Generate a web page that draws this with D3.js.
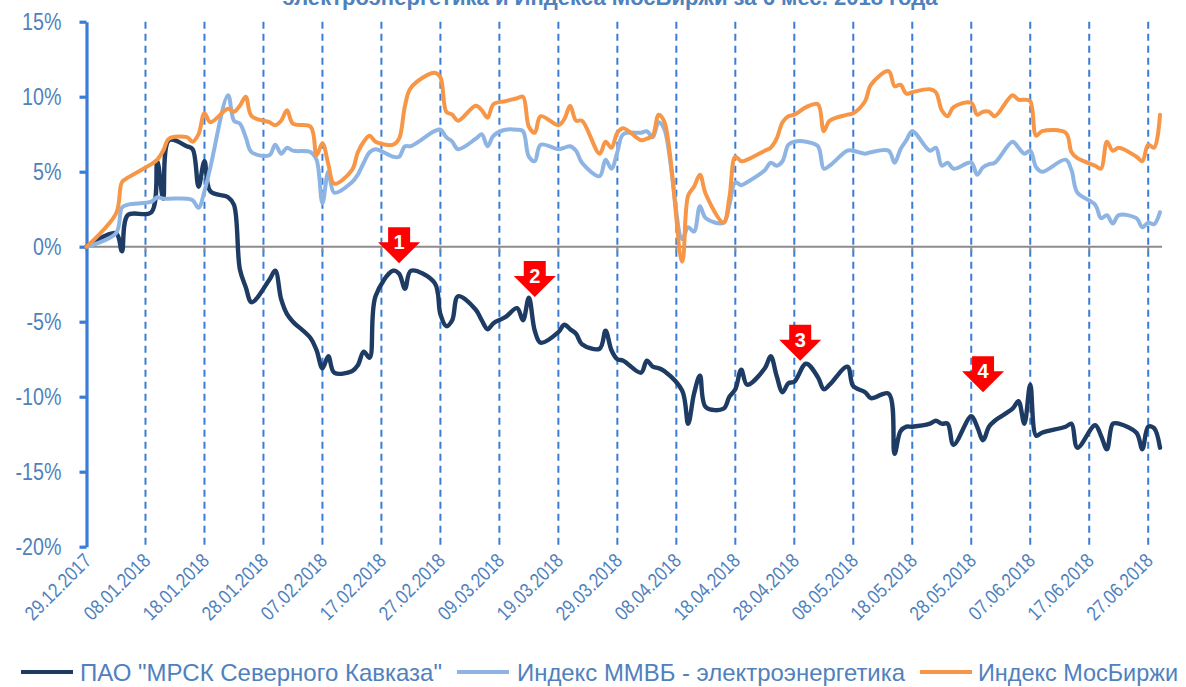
<!DOCTYPE html>
<html>
<head>
<meta charset="utf-8">
<script src="https://cdn.jsdelivr.net/npm/d3@7"></script>
<style>
  body { margin: 0; background: #fff; }
  svg { display: block; }
  text { font-family: "Liberation Sans", Arial, sans-serif; }
</style>
</head>
<body>
<script>
// trading dates (shared by the three series)
var dates = [
  "29.12.2017", "03.01.2018", "04.01.2018", "05.01.2018", "09.01.2018", "10.01.2018", "11.01.2018", "12.01.2018",
  "15.01.2018", "16.01.2018", "17.01.2018", "18.01.2018", "19.01.2018", "22.01.2018", "23.01.2018", "24.01.2018",
  "25.01.2018", "26.01.2018", "29.01.2018", "30.01.2018", "31.01.2018",
  "01.02.2018", "02.02.2018", "05.02.2018", "06.02.2018", "07.02.2018", "08.02.2018", "09.02.2018", "12.02.2018",
  "13.02.2018", "14.02.2018", "15.02.2018", "16.02.2018", "19.02.2018", "20.02.2018", "21.02.2018", "22.02.2018",
  "26.02.2018", "27.02.2018", "28.02.2018",
  "01.03.2018", "02.03.2018", "05.03.2018", "06.03.2018", "07.03.2018", "08.03.2018", "10.03.2018", "12.03.2018",
  "13.03.2018", "14.03.2018", "15.03.2018", "16.03.2018", "19.03.2018", "20.03.2018", "21.03.2018", "22.03.2018",
  "23.03.2018", "26.03.2018", "27.03.2018", "28.03.2018", "29.03.2018", "30.03.2018",
  "02.04.2018", "03.04.2018", "04.04.2018", "05.04.2018", "06.04.2018", "09.04.2018", "10.04.2018", "11.04.2018",
  "12.04.2018", "13.04.2018", "16.04.2018", "17.04.2018", "18.04.2018", "19.04.2018", "20.04.2018", "23.04.2018",
  "24.04.2018", "25.04.2018", "26.04.2018", "27.04.2018", "28.04.2018", "30.04.2018",
  "02.05.2018", "03.05.2018", "04.05.2018", "07.05.2018", "08.05.2018", "10.05.2018", "11.05.2018", "14.05.2018",
  "15.05.2018", "16.05.2018", "17.05.2018", "18.05.2018", "21.05.2018", "22.05.2018", "23.05.2018", "24.05.2018",
  "25.05.2018", "28.05.2018", "29.05.2018", "30.05.2018", "31.05.2018",
  "01.06.2018", "04.06.2018", "05.06.2018", "06.06.2018", "07.06.2018", "08.06.2018", "09.06.2018", "13.06.2018",
  "14.06.2018", "15.06.2018", "18.06.2018", "19.06.2018", "20.06.2018", "21.06.2018", "22.06.2018", "25.06.2018",
  "26.06.2018", "27.06.2018", "28.06.2018", "29.06.2018"
];

// ПАО "МРСК Северного Кавказа", % change
var mrsk = [
  0, 0.9, -0.3, 2.1, 2.3, 5.7, 3.2, 7.1, 6.7, 6.5, 4.0, 5.7, 3.7, 3.3, 2.8, -1.5, -2.7, -3.7, -2.2, -1.6, -3.5,
  -4.5, -5.0, -6.1, -6.9, -8.1, -7.3, -8.4, -8.3, -7.9, -7.0, -7.4, -3.3, -1.6, -1.8, -2.8, -1.6, -2.4, -4.5, -5.3,
  -4.9, -3.3, -4.2, -4.9, -5.5, -5.1, -4.7, -4.1, -4.9, -3.4, -5.6, -6.4, -5.7, -5.2, -5.5, -5.8, -6.5, -6.8, -5.6, -6.9, -7.5, -7.6,
  -8.4, -7.6, -8.0, -8.1, -8.3, -9.6, -11.8, -9.8, -8.6, -10.7, -10.8, -10.0, -9.5, -8.2, -9.2, -8.1, -7.3, -8.6, -9.7, -9.1, -9.0, -7.8,
  -8.7, -9.5, -9.2, -8.0, -9.3, -9.7, -10.1, -9.8, -13.8, -12.3, -12.0, -12.0, -11.8, -11.6, -11.8, -11.8, -13.2, -11.3, -12.0, -12.9, -12.0,
  -11.6, -10.8, -10.3, -11.8, -9.2, -12.6, -12.4, -12.0, -11.8, -13.4, -11.9, -12.6, -13.5, -11.8, -11.8, -12.4, -13.5, -12.0, -12.1, -13.4
];

// Индекс ММВБ - электроэнергетика, % change
var mmvbEl = [
  0, 0.9, 2.6, 2.8, 3.0, 3.3, 3.2, 3.2, 3.2, 3.1, 2.6, 3.7, 5.3, 10.1, 8.4, 8.2, 7.3, 6.3, 6.1, 6.8, 6.2,
  6.6, 6.4, 6.3, 5.8, 2.9, 5.0, 3.6, 4.3, 4.8, 5.6, 6.3, 6.5, 6.0, 6.0, 6.7, 6.7, 7.7, 7.8, 7.3,
  7.0, 6.5, 7.2, 7.5, 6.7, 7.4, 7.8, 7.8, 7.7, 6.0, 5.7, 6.8, 6.5, 6.6, 6.7, 6.4, 5.6, 4.7, 5.8, 5.2, 6.3, 7.5,
  7.6, 7.7, 7.3, 8.3, 7.8, 0.5, 1.3, 1.0, 2.7, 1.9, 1.6, 2.8, 4.3, 4.1, 4.3, 5.1, 5.6, 5.4, 5.7, 6.8, 7.0, 7.0,
  6.7, 5.2, 5.4, 6.4, 6.4, 6.2, 6.3, 6.4, 5.6, 6.5, 7.1, 7.7, 6.4, 6.6, 5.4, 5.6, 5.2, 5.6, 4.8, 5.3, 5.5,
  5.6, 7.0, 6.6, 6.2, 6.4, 5.3, 5.0, 5.8, 5.1, 3.6, 2.8, 1.9, 2.1, 1.55, 2.1, 1.9, 1.3, 1.6, 1.5, 2.3
];

// Индекс МосБиржи, % change
var moex = [
  0, 2.2, 4.3, 4.6, 5.5, 5.8, 6.4, 7.2, 7.3, 7.0, 7.5, 8.9, 8.3, 9.2, 9.0, 9.4, 10.0, 8.7, 8.3, 8.1, 8.4,
  9.1, 8.2, 8.0, 6.1, 6.9, 5.5, 4.2, 5.1, 6.3, 7.0, 7.4, 7.0, 6.8, 7.2, 9.4, 10.6, 11.6, 11.3, 9.0,
  8.8, 8.4, 9.4, 9.1, 8.6, 9.5, 9.7, 9.9, 10.0, 8.0, 7.6, 8.7, 8.1, 8.5, 9.4, 8.4, 8.4, 6.2, 7.0, 6.6, 7.6, 7.9,
  7.1, 7.2, 7.4, 8.8, 8.3, -1.0, 3.4, 4.0, 4.8, 3.5, 1.6, 3.3, 6.0, 5.7, 5.8, 6.4, 6.6, 7.2, 8.3, 8.7, 8.8, 9.3,
  9.5, 7.7, 8.4, 8.8, 8.9, 9.7, 10.8, 11.7, 10.7, 10.8, 10.2, 10.3, 10.5, 10.3, 9.1, 8.7, 9.3, 9.6, 8.8, 9.0, 9.0,
  8.7, 10.1, 9.8, 9.8, 9.7, 7.4, 7.7, 7.6, 6.3, 5.9, 5.4, 5.2, 7.0, 6.4, 6.6, 6.0, 5.7, 6.8, 6.6, 8.8
];

var seriesNames = ["ПАО \"МРСК Северного Кавказа\"", "Индекс ММВБ - электроэнергетика", "Индекс МосБиржи"];
var seriesColors = ["#1e3b64", "#8db4e2", "#f79646"];

var yTicks = [-20, -15, -10, -5, 0, 5, 10, 15];
var xTickLabels = [
  "29.12.2017", "08.01.2018", "18.01.2018", "28.01.2018", "07.02.2018", "17.02.2018", "27.02.2018",
  "09.03.2018", "19.03.2018", "29.03.2018", "08.04.2018", "18.04.2018", "28.04.2018", "08.05.2018",
  "18.05.2018", "28.05.2018", "07.06.2018", "17.06.2018", "27.06.2018"
];

// red numbered arrows over the МРСК line
var markerLabels = ["1", "2", "3", "4"];
var markerDates = ["20.02.2018", "15.03.2018", "29.04.2018", "30.05.2018"];
var markerValues = [-1.1, -3.35, -7.6, -9.7];

var titleText = "электроэнергетика и Индекса МосБиржи за 6 мес. 2018 года";

var width = 1186;
var height = 687;
var labelBlue = "#4f81bd";
var axisBlue = "#3a7dd6";

var parse = d3.timeParse("%d.%m.%Y");
var x = d3.scaleTime()
    .domain([parse("29.12.2017"), parse("29.06.2018")])
    .range([86.5, 1160]);
var y = d3.scaleLinear()
    .domain([-20, 15])
    .range([546.7, 21.7]);

var svg = d3.select("body")
    .append("svg")
    .attr("width", width)
    .attr("height", height);

// title (only its lower line shows in the frame)
svg.append("text")
    .attr("x", 610)
    .attr("y", 5)
    .attr("text-anchor", "middle")
    .attr("font-size", 22)
    .attr("font-weight", "bold")
    .attr("fill", labelBlue)
    .attr("textLength", 655)
    .attr("lengthAdjust", "spacingAndGlyphs")
    .text(titleText);

var tickDates = xTickLabels.map(parse);

// dashed vertical grid
svg.append("g")
    .selectAll("line")
    .data(tickDates.slice(1))
    .enter().append("line")
    .attr("x1", function (d) { return x(d); })
    .attr("x2", function (d) { return x(d); })
    .attr("y1", y(15))
    .attr("y2", y(-20))
    .style("stroke", axisBlue)
    .style("stroke-width", 2)
    .style("stroke-dasharray", "7,5");

// zero line with its small ticks
svg.append("line")
    .attr("x1", x.range()[0])
    .attr("x2", x.range()[1] + 2)
    .attr("y1", y(0))
    .attr("y2", y(0))
    .style("stroke", "#8c8c8c")
    .style("stroke-width", 2);
svg.append("g")
    .selectAll("line")
    .data(tickDates)
    .enter().append("line")
    .attr("x1", function (d) { return x(d); })
    .attr("x2", function (d) { return x(d); })
    .attr("y1", y(0))
    .attr("y2", y(0) + 5)
    .style("stroke", "#8c8c8c")
    .style("stroke-width", 2);

// x labels, rotated
svg.append("g")
    .selectAll("text")
    .data(xTickLabels)
    .enter().append("text")
    .attr("transform", function (d) {
        return "translate(" + (x(parse(d)) + 6) + ",562) rotate(-45) scale(0.84,1)";
    })
    .attr("text-anchor", "end")
    .attr("font-size", 20)
    .attr("fill", labelBlue)
    .text(function (d) { return d; });

// y axis
var yAxis = svg.append("g")
    .attr("transform", "translate(86.5,0)")
    .call(d3.axisLeft(y)
        .tickValues(yTicks)
        .tickSize(7)
        .tickSizeOuter(0)
        .tickPadding(18)
        .tickFormat(function (d) { return d + "%"; }));
yAxis.select(".domain")
    .style("stroke", axisBlue)
    .style("stroke-width", 3.2);
yAxis.selectAll(".tick line")
    .style("stroke", axisBlue)
    .style("stroke-width", 3.2);
yAxis.selectAll(".tick text")
    .attr("x", null)
    .attr("transform", "translate(-25,0) scale(0.82,1)")
    .attr("font-size", 24)
    .attr("font-family", "Liberation Sans, Arial, sans-serif")
    .attr("fill", labelBlue);

// series
var allSeries = [mrsk, mmvbEl, moex];
var line = d3.line()
    .x(function (d) { return x(d.date); })
    .y(function (d) { return y(d.value); })
    .curve(d3.curveCatmullRom.alpha(0.5));

var lines = svg.append("g");
allSeries.forEach(function (values, si) {
    var points = values.map(function (v, i) { return { date: parse(dates[i]), value: v }; });
    lines.append("path")
        .attr("d", line(points))
        .style("fill", "none")
        .style("stroke", seriesColors[si])
        .style("stroke-width", si === 0 ? 4.4 : 4)
        .style("stroke-linejoin", "round")
        .style("stroke-linecap", "round");
});

// numbered arrows
var markers = svg.append("g");
markerLabels.forEach(function (label, i) {
    var tx = x(parse(markerDates[i]));
    var ty = y(markerValues[i]);
    markers.append("path")
        .attr("d", "M" + (tx - 11) + "," + (ty - 36) + "H" + (tx + 11) + "V" + (ty - 21) +
            "H" + (tx + 21) + "L" + tx + "," + ty + "L" + (tx - 21) + "," + (ty - 21) +
            "H" + (tx - 11) + "Z")
        .style("fill", "#ff0000");
    markers.append("text")
        .attr("x", tx)
        .attr("y", ty - 14)
        .attr("text-anchor", "middle")
        .attr("font-size", 20)
        .attr("font-weight", "bold")
        .attr("fill", "#fff")
        .text(label);
});

// legend
var legendSwatch = [21, 457, 920];
var legendText = [80, 517, 978];
var legendWidth = [362, 388, 200];
var legend = svg.append("g");
seriesNames.forEach(function (name, i) {
    legend.append("line")
        .attr("x1", legendSwatch[i])
        .attr("x2", legendSwatch[i] + 52)
        .attr("y1", 672)
        .attr("y2", 672)
        .style("stroke", seriesColors[i])
        .style("stroke-width", 4);
    legend.append("text")
        .attr("x", legendText[i])
        .attr("y", 681)
        .attr("font-size", 24)
        .attr("fill", labelBlue)
        .attr("textLength", legendWidth[i])
        .attr("lengthAdjust", "spacingAndGlyphs")
        .text(name);
});
</script>
</body>
</html>
